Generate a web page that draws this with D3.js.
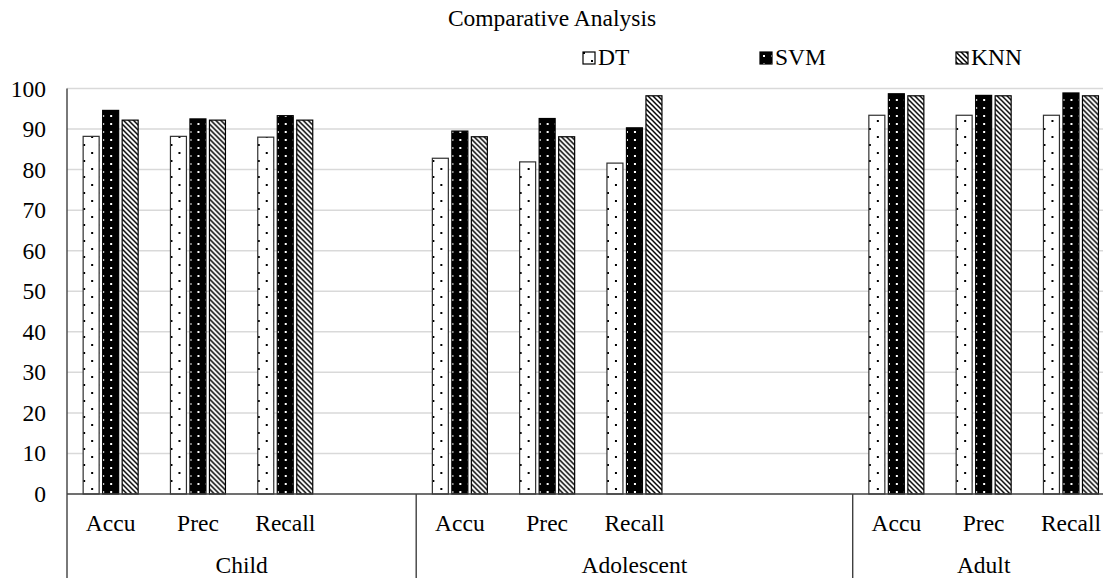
<!DOCTYPE html>
<html>
<head>
<meta charset="utf-8">
<script src="https://cdn.jsdelivr.net/npm/d3@7/dist/d3.min.js"></script>
<style>
  html, body { margin: 0; padding: 0; background: #fff; }
  svg { display: block; }
  svg text { font-family: "Liberation Serif", "Times New Roman", serif; fill: #000; font-size: 23.5px; }
</style>
</head>
<body>
<svg id="chart" width="1103" height="578"></svg>
<script>
// ---- Data ----
const title = "Comparative Analysis";
const seriesNames = ["DT", "SVM", "KNN"];
const groupLabels = ["Child", "Adolescent", "Adult"];
const childSlots = ["Accu", "Prec", "Recall", ""];
const adolescentSlots = ["Accu", "Prec", "Recall", "", ""];
const adultSlots = ["Accu", "Prec", "Recall"];
// values in order Child(Accu,Prec,Recall), Adolescent(...), Adult(...)
const dtValues  = [88.2, 88.2, 88.0, 82.8, 81.9, 81.6, 93.4, 93.4, 93.4];
const svmValues = [94.6, 92.5, 93.3, 89.5, 92.6, 90.3, 98.7, 98.3, 98.9];
const knnValues = [92.2, 92.2, 92.2, 88.1, 88.1, 98.2, 98.2, 98.2, 98.2];
const yTicks = [0, 10, 20, 30, 40, 50, 60, 70, 80, 90, 100];

// ---- Build slots ----
const groupSlots = [childSlots, adolescentSlots, adultSlots];
const slots = [];
groupSlots.forEach((arr, gi) => arr.forEach((lab, si) => slots.push({ id: gi + "-" + si, group: gi, label: lab })));
const dataSlots = slots.filter(s => s.label !== "");
const seriesValues = [dtValues, svmValues, knnValues];
dataSlots.forEach((s, i) => { s.values = seriesNames.map((n, k) => ({ name: n, value: seriesValues[k][i] })); });

// ---- Layout ----
const svg = d3.select("#chart");
const plotLeft = 67, slotW = 87.3;
const plotRight = plotLeft + slots.length * slotW;
const yBottom = 494, yTop = 88.5;
const serif = '"Liberation Serif", "Times New Roman", serif';

const x0 = d3.scaleBand().domain(slots.map(s => s.id)).range([plotLeft, plotRight]).padding(0);
const x1 = d3.scaleBand().domain(seriesNames).range([0, 55]).paddingInner(0.18).paddingOuter(0);
const y = d3.scaleLinear().domain([0, 100]).range([yBottom, yTop]);

// ---- Patterns ----
const defs = svg.append("defs");
const pDT = defs.append("pattern").attr("id", "pDT").attr("patternUnits", "userSpaceOnUse")
  .attr("width", 16).attr("height", 16);
pDT.append("rect").attr("width", 16).attr("height", 16).attr("fill", "#fff");
pDT.append("rect").attr("x", 0).attr("y", 0).attr("width", 2).attr("height", 2).attr("fill", "#000");
pDT.append("rect").attr("x", 8).attr("y", 8).attr("width", 2).attr("height", 2).attr("fill", "#000");

const pSVM = defs.append("pattern").attr("id", "pSVM").attr("patternUnits", "userSpaceOnUse")
  .attr("width", 8).attr("height", 8);
pSVM.append("rect").attr("width", 8).attr("height", 8).attr("fill", "#000");
pSVM.append("rect").attr("x", 3).attr("y", 3).attr("width", 2).attr("height", 2).attr("fill", "#fff");

const pKNN = defs.append("pattern").attr("id", "pKNN").attr("patternUnits", "userSpaceOnUse")
  .attr("width", 5).attr("height", 5);
pKNN.append("rect").attr("width", 5).attr("height", 5).attr("fill", "#fff");
pKNN.append("path").attr("d", "M-1,-1 L6,6 M-1,4 L1,6 M4,-1 L6,1")
  .attr("stroke", "#000").attr("stroke-width", 1.5);

const fills = { DT: "url(#pDT)", SVM: "url(#pSVM)", KNN: "url(#pKNN)" };

// ---- Gridlines ----
svg.append("g").selectAll("line").data(yTicks.filter(t => t > 0)).join("line")
  .attr("x1", plotLeft).attr("x2", plotRight)
  .attr("y1", d => y(d)).attr("y2", d => y(d))
  .attr("stroke", "#d9d9d9").attr("stroke-width", 1.5);

// ---- Y axis labels ----
const yAxis = d3.axisLeft(y).tickValues(yTicks).tickSize(0).tickPadding(21);
const gy = svg.append("g").attr("transform", `translate(${plotLeft},0)`).call(yAxis);
gy.attr("font-family", null).attr("font-size", null);
gy.select(".domain").remove();
gy.selectAll("text").attr("fill", "#000")
  .style("font-family", serif).style("font-size", "23.5px");

// ---- Bars ----
const bars = svg.append("g");
dataSlots.forEach(s => {
  const gx = x0(s.id) + (x0.bandwidth() - 55) / 2;
  bars.append("g").attr("transform", `translate(${gx},0)`)
    .selectAll("rect").data(s.values).join("rect")
    .attr("x", d => x1(d.name))
    .attr("y", d => y(d.value))
    .attr("width", x1.bandwidth())
    .attr("height", d => y(0) - y(d.value))
    .attr("fill", d => fills[d.name])
    .attr("stroke", d => d.name === "DT" ? "#303030" : "#000")
    .attr("stroke-width", 1.2);
});

// ---- Axes lines ----
svg.append("line").attr("x1", plotLeft).attr("x2", plotRight).attr("y1", yBottom).attr("y2", yBottom)
  .attr("stroke", "#404040").attr("stroke-width", 1.4);
svg.append("line").attr("x1", plotLeft).attr("x2", plotLeft).attr("y1", yTop).attr("y2", 578)
  .attr("stroke", "#404040").attr("stroke-width", 1.4);

// group separators
let idx = 0;
const boundaries = [];
groupSlots.forEach((arr, gi) => {
  const start = slots[idx].id, end = slots[idx + arr.length - 1].id;
  boundaries.push({ gi, x0: x0(start), x1: x0(end) + x0.bandwidth() });
  idx += arr.length;
});
svg.append("g").selectAll("line").data(boundaries.slice(1)).join("line")
  .attr("x1", d => d.x0).attr("x2", d => d.x0).attr("y1", yBottom).attr("y2", 578)
  .attr("stroke", "#404040").attr("stroke-width", 1.4);

// category labels
svg.append("g").selectAll("text").data(dataSlots).join("text")
  .attr("x", d => x0(d.id) + x0.bandwidth() / 2)
  .attr("y", 531)
  .attr("text-anchor", "middle")
  .text(d => d.label);

// group labels
svg.append("g").selectAll("text").data(boundaries).join("text")
  .attr("x", d => (d.x0 + d.x1) / 2)
  .attr("y", 573)
  .attr("text-anchor", "middle")
  .text(d => groupLabels[d.gi]);

// ---- Title ----
svg.append("text").attr("x", 552).attr("y", 26).attr("text-anchor", "middle").text(title);

// ---- Legend ----
const legendX = [583, 760, 956];
const lg = svg.append("g").selectAll("g").data(seriesNames).join("g")
  .attr("transform", (d, i) => `translate(${legendX[i]},52)`);
lg.append("rect").attr("x", 0).attr("y", 0).attr("width", 12).attr("height", 12)
  .attr("fill", d => fills[d]).attr("stroke", "#000").attr("stroke-width", 1.2);
lg.append("text").attr("x", 15).attr("y", 13).text(d => d);
</script>
</body>
</html>
